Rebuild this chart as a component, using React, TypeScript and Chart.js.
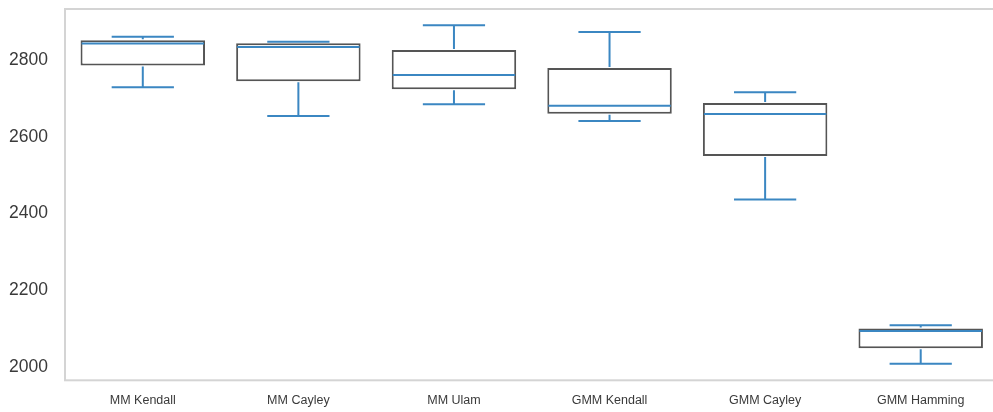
import React, { useEffect, useRef } from "react";
import { Chart, registerables } from "chart.js";

Chart.register(...registerables);

const categories = ["MM Kendall", "MM Cayley", "MM Ulam", "GMM Kendall", "GMM Cayley", "GMM Hamming"];
const whiskerLow = [2729, 2654, 2685, 2641, 2436, 2008];
const q1 = [2786, 2745, 2724, 2660, 2550, 2048];
const median = [2843, 2834, 2761, 2681, 2659, 2093];
const q3 = [2852, 2844, 2826, 2779, 2688, 2100];
const whiskerHigh = [2861, 2848, 2891, 2873, 2716, 2108];
const yTicks = [2000, 2200, 2400, 2600, 2800];

const BLUE = "#3b87c2";
const BOX_EDGE = "#555555";
const FRAME = "#d4d4d4";
const TEXT = "#3a3a3a";

const boxPlugin = {
  id: "boxWhiskers",
  afterDatasetsDraw(chart: any) {
    const { ctx, scales } = chart;
    const xs = scales.x;
    const ys = scales.y;
    const meta = chart.getDatasetMeta(0);
    ctx.save();
    ctx.strokeStyle = BLUE;
    ctx.lineWidth = 2;
    ctx.lineCap = "butt";
    categories.forEach((_, i) => {
      const bar = meta.data[i];
      const cx = xs.getPixelForValue(i);
      const bw = bar.width;
      const capHalf = bw / 4;
      const yLow = ys.getPixelForValue(whiskerLow[i]);
      const yQ1 = ys.getPixelForValue(q1[i]);
      const yQ3 = ys.getPixelForValue(q3[i]);
      const yHigh = ys.getPixelForValue(whiskerHigh[i]);
      const yMed = ys.getPixelForValue(median[i]);
      ctx.beginPath();
      ctx.moveTo(cx, yQ1 + 1);
      ctx.lineTo(cx, yLow);
      ctx.moveTo(cx - capHalf, yLow);
      ctx.lineTo(cx + capHalf, yLow);
      ctx.moveTo(cx, yQ3 - 1);
      ctx.lineTo(cx, yHigh);
      ctx.moveTo(cx - capHalf, yHigh);
      ctx.lineTo(cx + capHalf, yHigh);
      ctx.stroke();
      ctx.beginPath();
      ctx.moveTo(cx - bw / 2 + 1, yMed);
      ctx.lineTo(cx + bw / 2 - 1, yMed);
      ctx.stroke();
    });
    ctx.restore();
  },
  afterDraw(chart: any) {
    const { ctx, chartArea } = chart;
    ctx.save();
    ctx.strokeStyle = FRAME;
    ctx.lineWidth = 2;
    ctx.strokeRect(chartArea.left, chartArea.top, chartArea.right - chartArea.left, chartArea.bottom - chartArea.top);
    ctx.restore();
  },
};

export default function App() {
  const ref = useRef<HTMLCanvasElement>(null);
  useEffect(() => {
    if (!ref.current) return;
    const chart = new Chart(ref.current, {
      type: "bar",
      data: {
        labels: categories,
        datasets: [
          {
            data: categories.map((_, i) => [q1[i], q3[i]]) as any,
            backgroundColor: "#ffffff",
            borderColor: BOX_EDGE,
            borderWidth: 2,
            borderSkipped: false,
            barPercentage: 0.8,
            categoryPercentage: 1,
          },
        ],
      },
      options: {
        animation: false,
        responsive: false,
        maintainAspectRatio: false,
        devicePixelRatio: 1,
        layout: { padding: { top: 9, right: 1.5, left: 0, bottom: 0 } },
        plugins: { legend: { display: false }, tooltip: { enabled: false }, title: { display: false } },
        scales: {
          x: {
            type: "category",
            offset: true,
            grid: { display: false, drawTicks: false },
            border: { display: false },
            ticks: {
              color: TEXT,
              font: { family: "'Liberation Sans', Arial, sans-serif", size: 12.5 },
              padding: 13,
              maxRotation: 0,
              autoSkip: false,
            },
            afterFit: (s: any) => {
              s.height = 31.7;
              s.paddingLeft = 0;
              s.paddingRight = 0;
            },
          },
          y: {
            type: "linear",
            min: 1964.6,
            max: 2933.2,
            grid: { display: false, drawTicks: false },
            border: { display: false },
            ticks: {
              color: TEXT,
              font: { family: "'Liberation Sans', Arial, sans-serif", size: 17.5 },
              padding: 17,
              callback: (v: any) => String(v),
            },
            afterBuildTicks: (s: any) => {
              s.ticks = yTicks.map((v) => ({ value: v }));
            },
            afterFit: (s: any) => {
              s.width = 65;
              s.paddingTop = 0;
              s.paddingBottom = 0;
            },
          },
        },
      },
      plugins: [boxPlugin],
    });
    return () => chart.destroy();
  }, []);
  return (
    <div style={{ position: "fixed", left: 0, top: 0, width: 993, height: 412, overflow: "hidden", background: "#fff" }}>
      <canvas ref={ref} width={1000} height={412} style={{ display: "block", width: 1000, height: 412 }} />
    </div>
  );
}
